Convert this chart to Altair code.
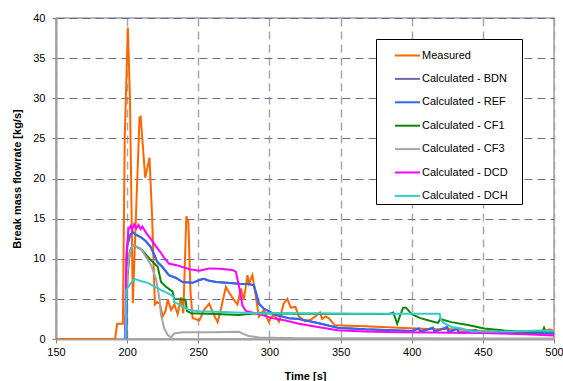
import altair as alt
import pandas as pd

series_names = ["Measured", "Calculated - BDN", "Calculated - REF", "Calculated - CF1",
                "Calculated - CF3", "Calculated - DCD", "Calculated - DCH"]
series_colors = ["#FF6600", "#6B6BB0", "#3366EE", "#0A870A", "#A6A6A6", "#FF00FF", "#33CCCC"]

meas_t = [150, 191.5, 193, 197, 198.3, 200.5, 202, 204, 205.5, 208.7, 209.5, 212.7, 215.7, 217.6,
          219.5, 221, 223, 225, 227, 228.5, 230.9, 233.2, 235.5, 237.9, 239.5, 241.6, 243, 244.5,
          246, 250.7, 254, 257.7, 261, 263.6, 266, 269.4, 271.6, 275.2, 277.5, 280, 282, 284.6,
          285.6, 288, 290.2, 292.6, 296, 299.5, 303, 306.7, 310, 312.6, 315, 318.3, 320.7, 325,
          329, 333.5, 335.5, 337, 339.5, 341.6, 346, 367, 391, 411.5, 430, 461, 494, 497, 500]
meas_v = [0, 0, 1.9, 1.9, 25, 38.8, 30, 4.5, 12, 27.6, 27.7, 20.1, 22.6, 15,
          4.3, 4.6, 4.4, 2.8, 3.5, 4.9, 3.6, 4.3, 3.1, 5.2, 3.2, 15.3, 14.6, 6,
          2.6, 2.3, 3.6, 4.4, 3.0, 2.1, 3.8, 6.5, 5.8, 4.85, 4.3, 6.3, 4.9, 7.95,
          6.9, 7.95, 5.6, 2.8, 3.6, 2.15, 3.1, 2.15, 4.4, 5.0, 3.9, 4.0, 2.8, 2.2,
          2.4, 3.0, 3.3, 2.5, 2.8, 2.6, 1.7, 1.6, 1.4, 1.25, 1.2, 0.9, 1.0, 1.2, 1.0]

ref_t = [198.5, 199.5, 200, 202, 204, 206, 209.5, 213, 216.5, 219, 221.2, 224.7, 229.3, 234.4,
         239, 246, 250.7, 254, 257, 262.4, 270, 278.6, 285.6, 289, 291, 292.6, 296, 300, 304.4,
         313.7, 320.7, 334, 348, 367, 391, 400, 405, 406, 415, 416, 425, 426, 432, 433, 438,
         445, 446, 470, 500]
ref_v = [0, 0, 11.6, 12.9, 13.3, 13.0, 12.7, 12.2, 11.5, 10.5, 9.6, 9.0, 7.95, 7.6,
         7.1, 7.0, 7.35, 7.5, 7.3, 7.1, 7.0, 6.9, 6.85, 6.7, 5.5, 4.4, 3.8, 3.4, 3.0,
         2.6, 2.5, 2.0, 1.4, 1.2, 1.05, 1.0, 1.3, 0.9, 1.4, 0.9, 1.5, 0.85, 1.3, 0.8, 0.8,
         1.1, 0.75, 0.75, 0.7]

bdn_t = ref_t
bdn_v = ref_v

cf1_t = [198.5, 200.3, 202, 204, 209.8, 216.8, 221.5, 223.8, 227.3, 232, 233, 241, 242, 245,
         262.4, 278.6, 285, 292.6, 320, 383.6, 387, 389.8, 392, 394, 396, 400, 406, 412, 418.5,
         420, 427.8, 439.5, 451, 465, 474.5, 492, 493, 494, 500]
cf1_v = [0, 8, 11, 11.7, 11.2, 9.8, 9.0, 7.1, 6.5, 5.9, 5.0, 4.9, 3.5, 3.2,
         3.1, 3.0, 3.1, 3.2, 3.15, 3.1, 3.3, 1.9, 3.0, 3.9, 3.9, 3.1, 2.6, 2.3, 2.0,
         2.5, 2.1, 1.75, 1.3, 1.05, 0.95, 0.95, 1.4, 0.95, 0.9]

cf3_t = [198.5, 200, 202, 204, 209.8, 216.8, 220.3, 222.7, 223.8, 226.1, 228.5, 230.9, 233,
         239, 260, 278.6, 282, 285.6, 292.6, 320, 400, 500]
cf3_v = [0, 8, 11, 11.7, 11.2, 9.2, 7.5, 5.05, 3.0, 1.3, 0.5, 0.2, 0.7,
         0.83, 0.85, 0.9, 0.6, 0.37, 0.2, 0.1, 0.08, 0.05]

dcd_t = [198.5, 199.4, 201, 202.5, 203.5, 205, 206.5, 208, 209.5, 210.7, 213.5, 216.5, 220,
         223.5, 226.5, 229.3, 234.6, 240, 244, 251, 255, 258, 265, 274, 276.4, 278.7, 281,
         283.4, 292.6, 302, 311.4, 320.7, 334, 348, 367, 391, 412, 450, 480, 500]
dcd_v = [0, 10.4, 13.75, 14.1, 13.6, 14.3, 13.8, 14.2, 13.7, 14.0, 13.2, 12.5, 11.6,
         10.8, 10.0, 9.4, 9.2, 8.9, 8.7, 8.5, 8.7, 8.8, 8.75, 8.6, 8.4, 6.5, 4.2,
         3.5, 3.1, 2.6, 2.3, 1.9, 1.5, 1.1, 0.95, 0.85, 0.8, 0.75, 0.6, 0.45]

dch_t = [198.9, 199.5, 202, 205.3, 210, 214.6, 224, 229.8, 232.5, 233, 237, 239, 243.7, 250,
         262, 292, 320, 360, 419.6, 420.5, 422.5, 428, 435, 442, 470, 490, 500]
dch_v = [0, 6.1, 6.8, 7.5, 7.2, 7.0, 6.1, 5.6, 5.3, 4.6, 4.3, 4.0, 3.6, 3.45,
         3.4, 3.2, 3.2, 3.15, 3.15, 2.4, 2.0, 1.5, 1.3, 0.95, 0.95, 1.05, 0.95]

x_ticks = [150, 200, 250, 300, 350, 400, 450, 500]
y_ticks = [0, 5, 10, 15, 20, 25, 30, 35, 40]

all_t = [meas_t, bdn_t, ref_t, cf1_t, cf3_t, dcd_t, dch_t]
all_v = [meas_v, bdn_v, ref_v, cf1_v, cf3_v, dcd_v, dch_v]

rows = []
for k, (name, ts, vs) in enumerate(zip(series_names, all_t, all_v)):
    for i, (t, v) in enumerate(zip(ts, vs)):
        rows.append({"series": name, "shadow": name, "t": t, "v": v, "k": k, "i": i})
df = pd.DataFrame(rows)

FONT = "Liberation Sans"
SHADOW = "#3A3A3A"

legend_common = dict(title="\u00a0", titleOrient="right", titleFontSize=11,
                     titlePadding=11,
                     orient="none", symbolType="stroke", symbolSize=625,
                     symbolStrokeWidth=2, padding=3, rowPadding=4.4, symbolOffset=15,
                     labelOffset=1)

chart = alt.Chart(df).mark_line(strokeWidth=2, clip=True).encode(
    x=alt.X("t:Q", title="Time [s]",
            scale=alt.Scale(domain=[150, 500], nice=False, zero=False),
            axis=alt.Axis(values=x_ticks, grid=True, gridColor="#A8A8A8", gridDash=[8, 5],
                          gridWidth=1.5, domainColor="#A0A0A0", domainWidth=2,
                          tickColor="#808080", tickSize=4, labelPadding=3,
                          titlePadding=13, labelFlush=False)),
    y=alt.Y("v:Q", title="Break mass flowrate [kg/s]",
            scale=alt.Scale(domain=[0, 40], nice=False),
            axis=alt.Axis(values=y_ticks, grid=True, gridColor="#6A6AA8", gridDash=[8, 5],
                          gridWidth=1.2, domainColor="#A0A0A0", domainWidth=2,
                          tickColor="#808080", tickSize=4, labelPadding=7,
                          titlePadding=10, labelFlush=False)),
    color=alt.Color("shadow:N", sort=series_names,
                    scale=alt.Scale(domain=series_names, range=[SHADOW] * 7),
                    legend=alt.Legend(legendX=323, legendY=24, fillColor=SHADOW,
                                      strokeColor=SHADOW, labelColor=SHADOW,
                                      **legend_common)),
    stroke=alt.Stroke("series:N", sort=series_names,
                      scale=alt.Scale(domain=series_names, range=series_colors),
                      legend=alt.Legend(legendX=320, legendY=21, fillColor="white",
                                        strokeColor="black", labelColor="black",
                                        **legend_common)),
    detail="k:N",
    order="i:Q",
).properties(
    width=498, height=321,
    autosize=alt.AutoSizeParams(type="none"),
    padding={"left": 56, "top": 18, "right": 9, "bottom": 42},
).configure(
    font=FONT,
).configure_view(
    stroke="#A0A0A0", strokeWidth=1.5,
).configure_axis(
    labelFont=FONT, labelFontSize=11, labelColor="black",
    titleFont=FONT, titleFontSize=11, titleFontWeight="bold", titleColor="black",
).configure_legend(
    labelFont=FONT, labelFontSize=11,
)

chart.save("out.html", embed_options={"renderer": "svg", "actions": False})
